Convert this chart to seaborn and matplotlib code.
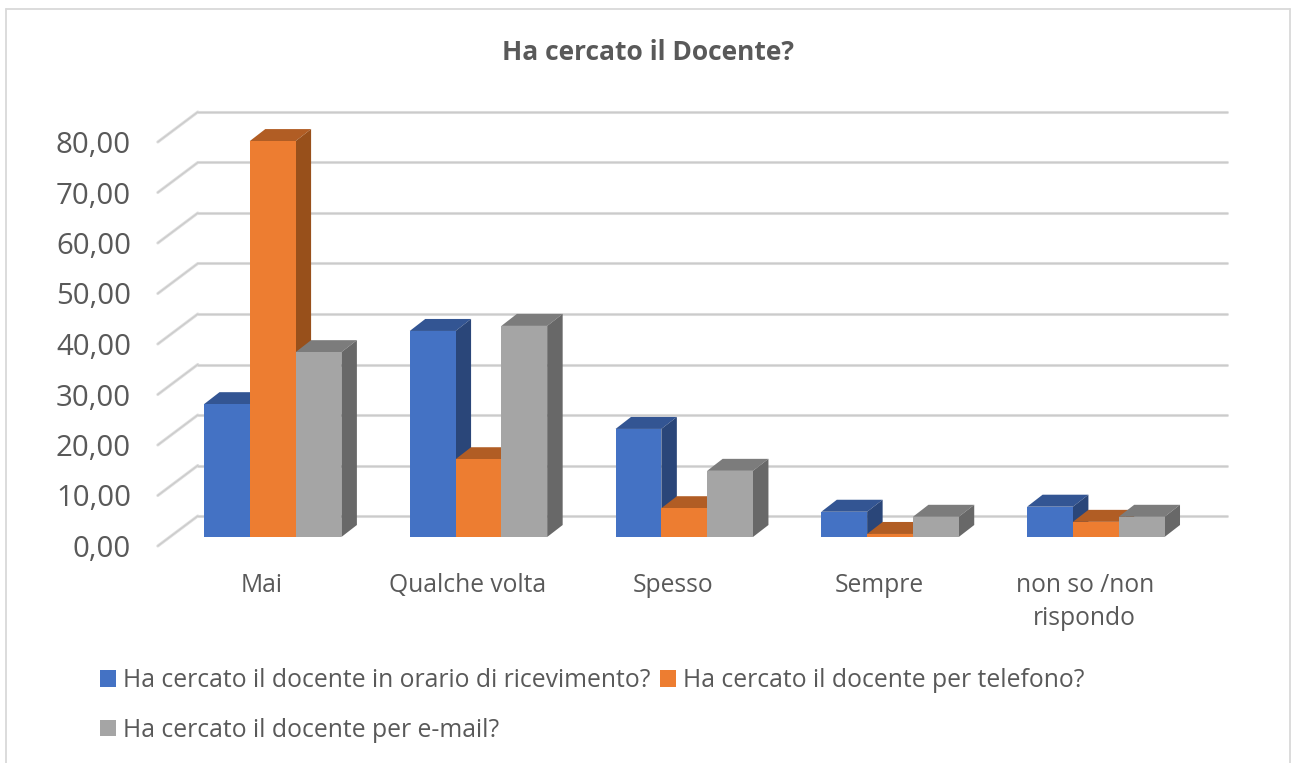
import pandas as pd
import seaborn as sns
import matplotlib.pyplot as plt
from matplotlib.lines import Line2D
from matplotlib.patches import Polygon
from matplotlib.transforms import ScaledTranslation

categories = ['Mai', 'Qualche volta', 'Spesso', 'Sempre', 'non so /non\nrispondo']
ricevimento = [26.3, 40.8, 21.4, 5.0, 6.0]
telefono = [78.4, 15.4, 5.7, 0.6, 3.0]
email = [36.6, 41.8, 13.1, 4.0, 4.0]
series_names = ['Ha cercato il docente in orario di ricevimento?',
                'Ha cercato il docente per telefono?',
                'Ha cercato il docente per e-mail?']
y_ticks = [0, 10, 20, 30, 40, 50, 60, 70, 80]
y_labels = ['0,00', '10,00', '20,00', '30,00', '40,00', '50,00', '60,00', '70,00', '80,00']

front_colors = ['#4472C4', '#ED7D31', '#A5A5A5']
top_colors = ['#335593', '#B15D24', '#7C7C7C']
side_colors = ['#2A4679', '#98501B', '#686868']
text_color = '#595959'
line_color = '#DEDEDE'
line_core = '#CBCBCB'

W, H = 1292, 763
DPI = 100
# plot area in pixels, the plane the bars stand on
LEFT, RIGHT, BASE, TOP = 169.8, 1198.7, 537, 133

sns.set_theme(style='white')
plt.rcParams['font.family'] = ['Open Sans', 'DejaVu Sans']

df = pd.DataFrame({'cat': categories * 3,
                   'serie': [n for n in series_names for _ in categories],
                   'val': ricevimento + telefono + email})

fig = plt.figure(figsize=(W / DPI, H / DPI), dpi=DPI)
ax = fig.add_axes([LEFT / W, 1 - BASE / H, (RIGHT - LEFT) / W, (BASE - TOP) / H])

sns.barplot(data=df, x='cat', y='val', hue='serie', palette=front_colors, saturation=1,
            width=0.6677, gap=0, errorbar=None, linewidth=0, ax=ax)
ax.set_xlim(-0.5, 4.5)
ax.set_ylim(0, 80)

px_x = (len(categories)) / (RIGHT - LEFT)
px_y = 80 / (BASE - TOP)

# bar depth and depth of the floor, in data units
bar_dx, bar_dy = 15.5 * px_x, 12 * px_y
back_dx, back_dy = 28 * px_x, 21 * px_y
front_dx, front_dy = 12 * px_x, 9 * px_y

# walls and floor stubs
for v in y_ticks:
    for color, lw in [(line_color, 2.2), (line_core, 0.9)]:
        ax.plot([-0.5 - front_dx, -0.5 + back_dx], [v - front_dy, v + back_dy],
                color=color, lw=lw, clip_on=False, zorder=1, solid_capstyle='round')
        ax.plot([-0.5 + back_dx, 4.5 + back_dx], [v + back_dy, v + back_dy],
                color=color, lw=lw, clip_on=False, zorder=1, solid_capstyle='round')

# fake 3d: a top and a side for every bar, left to right
for k, container in enumerate(ax.containers):
    for rect in container:
        x0 = rect.get_x()
        x1 = x0 + rect.get_width()
        h = rect.get_height()
        z = 3 + k
        rect.set_zorder(z + 0.5)
        rect.set_clip_on(False)
        top = Polygon([(x0, h), (x0 + bar_dx, h + bar_dy), (x1 + bar_dx, h + bar_dy), (x1, h)],
                      facecolor=top_colors[k], edgecolor='none', zorder=z, clip_on=False)
        side = Polygon([(x1, 0), (x1 + bar_dx, bar_dy), (x1 + bar_dx, h + bar_dy), (x1, h)],
                       facecolor=side_colors[k], edgecolor='none', zorder=z, clip_on=False)
        ax.add_patch(top)
        ax.add_patch(side)

sns.despine(ax=ax, left=True, bottom=True)
ax.set_xlabel('')
ax.set_ylabel('')
ax.grid(False)
ax.patch.set_visible(False)

ax.set_yticks(y_ticks)
ax.set_yticklabels(y_labels, fontsize=21.2, color=text_color)
ax.tick_params(axis='y', length=0, pad=28)
ax.set_xticks(range(len(categories)))
ax.set_xticklabels(categories, fontsize=17.7, color=text_color, linespacing=1.42)
ax.tick_params(axis='x', length=0, pad=26)

# labels sit on the front edge of the floor, not on the bar plane
y_shift = ScaledTranslation(0, -9 / DPI, fig.dpi_scale_trans)
x_shift = ScaledTranslation(-11 / DPI, 0, fig.dpi_scale_trans)
for lab in ax.get_yticklabels():
    lab.set_transform(lab.get_transform() + y_shift)
for lab in ax.get_xticklabels():
    lab.set_transform(lab.get_transform() + x_shift)

handles, labels = ax.get_legend_handles_labels()
order = [0, 2, 1]
ax.legend([handles[i] for i in order], [labels[i] for i in order], ncol=2, frameon=False,
          loc='upper left', bbox_to_anchor=(100 / W, 1 - 668 / H), bbox_transform=fig.transFigure,
          fontsize=17.85, labelcolor=text_color, handlelength=0.65, handleheight=0.65,
          handletextpad=0.28, columnspacing=0.37, labelspacing=1.0, borderpad=0, borderaxespad=0)

fig.text(648 / W, 1 - 52 / H, 'Ha cercato il Docente?', ha='center', va='center',
         fontsize=19, fontweight='bold', color=text_color)

# chart frame, open at the bottom where the picture is cut
frame = [((6, 9), (6, 763)), ((6, 9), (1290, 9)), ((1290, 9), (1290, 763))]
for (xa, ya), (xb, yb) in frame:
    fig.add_artist(Line2D([xa / W, xb / W], [1 - ya / H, 1 - yb / H], color='#D9D9D9', lw=1.3))

fig.savefig('out.png', dpi=DPI)
